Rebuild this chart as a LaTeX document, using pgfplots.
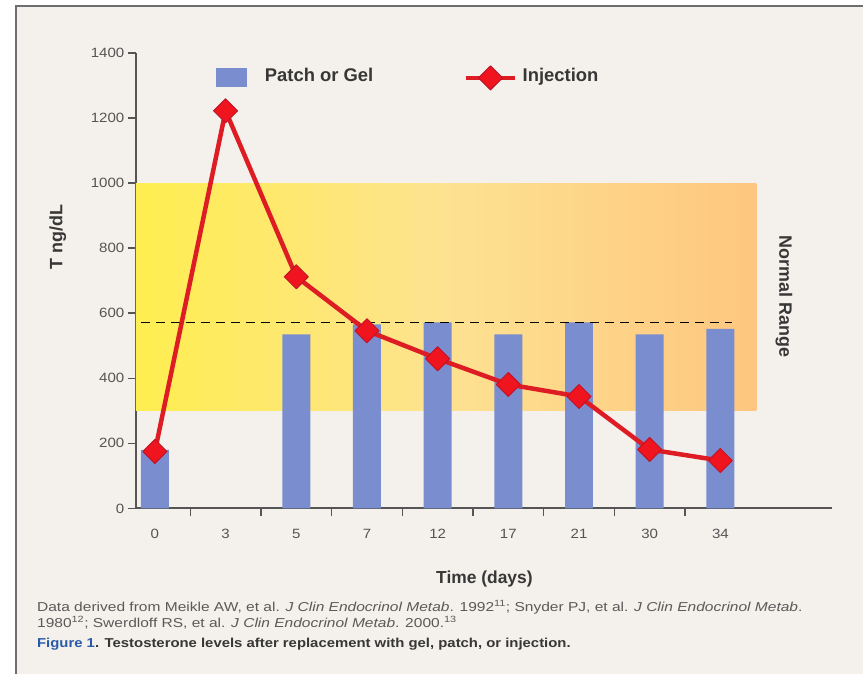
\documentclass[border=0pt]{standalone}
\usepackage{pgfplots}
\pgfplotsset{compat=1.18}
\usepackage{fontspec}
\setmainfont{Liberation Sans}
\newfontfamily\capfont[FakeStretch=1.2]{Liberation Sans}
\newfontfamily\figfont[FakeStretch=1.15]{Liberation Sans}
\newfontfamily\tickfont[FakeStretch=1.12]{Liberation Sans}
\definecolor{bgbeige}{RGB}{244,240,235}
\definecolor{framegray}{RGB}{110,110,110}
\definecolor{barblue}{RGB}{122,141,206}
\definecolor{injred}{RGB}{222,28,36}
\definecolor{markred}{RGB}{240,20,30}
\definecolor{markedge}{RGB}{190,20,40}
\definecolor{rangeyellow}{RGB}{255,238,80}
\definecolor{rangemid}{RGB}{253,226,145}
\definecolor{rangeorange}{RGB}{254,198,128}
\definecolor{axisgray}{RGB}{85,85,85}
\definecolor{textgray}{RGB}{55,55,55}
\definecolor{capgray}{RGB}{90,90,90}
\definecolor{figblue}{RGB}{40,90,170}
\pgfplotsset{
  barlegend/.style={legend image code/.code={\fill[barblue] (0bp,-9.5bp) rectangle (31bp,9.5bp); \path (44bp,0bp);}},
  injlegend/.style={legend image code/.code={\draw[##1, mark repeat=2, mark phase=2] plot coordinates {(0bp,0bp) (25bp,0bp) (50bp,0bp)};}},
}

\begin{document}
\begin{tikzpicture}
\fill[white] (0,0) rectangle (864bp,675bp);
\fill[bgbeige] (16bp,0) rectangle (864bp,669bp);
\draw[framegray, line width=2bp] (16bp,0) -- (16bp,669bp) -- (864bp,669bp);
\begin{axis}[
  at={(136bp,166bp)}, anchor=south west,
  scale only axis, width=697bp, height=456bp,
  xmin=-0.27, xmax=9.58, ymin=0, ymax=1400,
  clip=false,
  axis x line*=bottom, axis y line*=left,
  axis line style={axisgray, line width=2bp},
  tick align=outside, major tick length=8bp,
  tick style={axisgray, line width=1.5bp},
  xtick={0.5,1.5,...,7.5}, xticklabels={},
  extra x ticks={0,1,2,3,4,5,6,7,8},
  extra x tick labels={0,3,5,7,12,17,21,30,34},
  extra x tick style={major tick length=0pt, xticklabel style={yshift=-17bp}},
  ytick={0,200,...,1400},
  /pgf/number format/assume math mode=true,
  /pgf/number format/1000 sep={},
  scaled y ticks=false,
  ticklabel style={font=\tickfont\fontsize{13.5}{15}\selectfont, text=axisgray},
  xlabel={Time (days)},
  xlabel style={at={(axis description cs:0.5007,-0.155)}, anchor=center, font=\bfseries\fontsize{17.5}{20}\selectfont, text=textgray},
  ylabel={T ng/dL},
  ylabel style={at={(axis description cs:-0.112,0.596)}, anchor=center, font=\bfseries\fontsize{18}{20}\selectfont, text=textgray},
  legend columns=2,
  legend style={at={(axis description cs:0.1148,0.972)}, anchor=north west, draw=none, fill=none, inner sep=0pt,
    font=\bfseries\fontsize{18.5}{20}\selectfont, text=textgray,
    nodes={inner sep=0pt, text height=0.716em, text depth=0pt},
    /tikz/every odd column/.append style={column sep=5bp},
    /tikz/every even column/.append style={column sep=90bp}},
]
\addplot[draw=none, left color=rangeyellow, right color=rangeorange, middle color=rangemid, forget plot]
  coordinates {(-0.27,300) (8.51,300) (8.51,1000) (-0.27,1000)} -- cycle;
\addplot[ybar, bar width=28bp, bar shift=0pt, fill=barblue, draw=none, barlegend]
  coordinates {(0,180) (2,535) (3,566) (4,572) (5,535) (6,572) (7,535) (8,552)};
\addlegendentry{Patch or Gel}
\addplot[black, line width=1.5bp, dash pattern=on 9bp off 6bp, forget plot]
  coordinates {(-0.2,572) (8.17,572)};
\addplot[injred, line width=4.5bp, line join=round, mark=square*, mark size=8.5bp,
  mark options={rotate=45, solid, fill=markred, draw=markedge, line width=1bp}, injlegend]
  coordinates {(0,175) (1,1222) (2,712) (3,546) (4,460) (5,381) (6,344) (7,181) (8,147)};
\addlegendentry{Injection}
\node[rotate=-90, font=\bfseries\fontsize{18}{20}\selectfont, text=textgray] at (axis description cs:0.931,0.465) {Normal Range};
\end{axis}
\node[anchor=base west, inner sep=0pt, text=capgray, font=\capfont\fontsize{13}{14}\selectfont] at (37bp,63bp)
  {Data derived from Meikle AW, et al. \textit{J Clin Endocrinol Metab}. 1992\textsuperscript{11}; Snyder PJ, et al. \textit{J Clin Endocrinol Metab}.};
\node[anchor=base west, inner sep=0pt, text=capgray, font=\capfont\fontsize{13}{14}\selectfont] at (37bp,47bp)
  {1980\textsuperscript{12}; Swerdloff RS, et al. \textit{J Clin Endocrinol Metab}. 2000.\textsuperscript{13}};
\node[anchor=base west, inner sep=0pt, text=textgray, font=\figfont\bfseries\fontsize{13}{14}\selectfont] at (37bp,27bp)
  {{\color{figblue}Figure 1}. Testosterone levels after replacement with gel, patch, or injection.};
\end{tikzpicture}
\end{document}
